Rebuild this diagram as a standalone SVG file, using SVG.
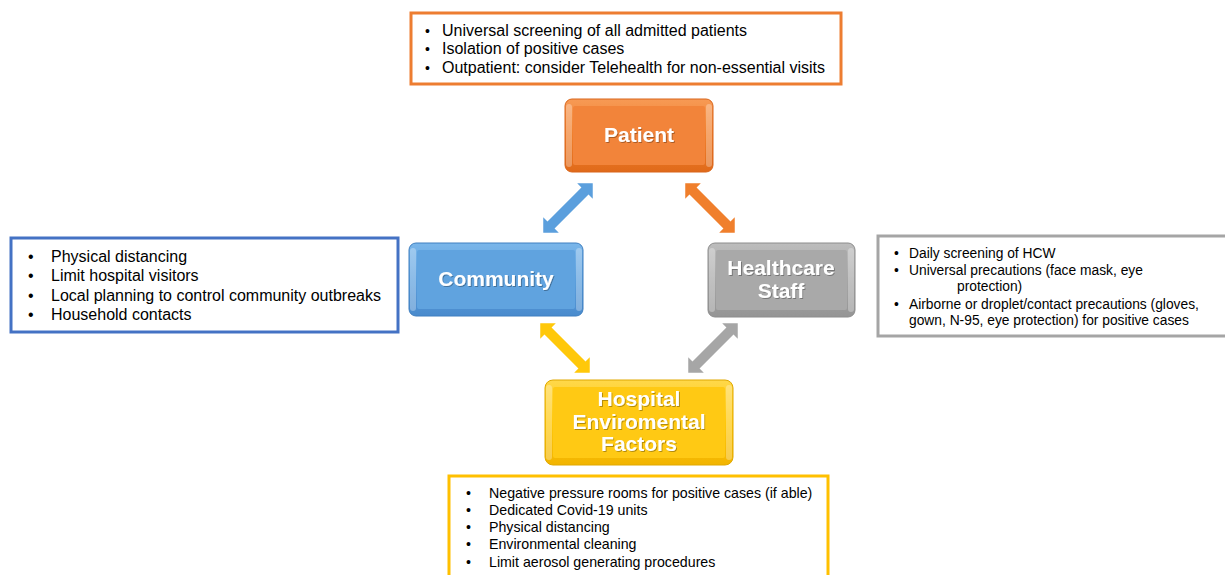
<svg xmlns="http://www.w3.org/2000/svg" width="1225" height="575" viewBox="0 0 1225 575">
  <defs>
    <style>
      .box { fill: #ffffff; stroke-width: 3; }
      .txt { font-family: "Liberation Sans", Arial, sans-serif; fill: #000000; }
      .lbl { font-family: "Liberation Sans", Arial, sans-serif; font-weight: bold; font-size: 21px; fill: #ffffff; text-anchor: middle; }
      .hi { fill: #ffffff; opacity: 0.3; }
    </style>
    <linearGradient id="gOrange" x1="0" y1="0" x2="0" y2="1">
      <stop offset="0" stop-color="#f79a55"/>
      <stop offset="0.5" stop-color="#f07f2c"/>
      <stop offset="1" stop-color="#e06a1a"/>
    </linearGradient>
    <linearGradient id="gBlue" x1="0" y1="0" x2="0" y2="1">
      <stop offset="0" stop-color="#7ab6ea"/>
      <stop offset="0.5" stop-color="#5b9fdd"/>
      <stop offset="1" stop-color="#4a8bcd"/>
    </linearGradient>
    <linearGradient id="gGray" x1="0" y1="0" x2="0" y2="1">
      <stop offset="0" stop-color="#bdbdbd"/>
      <stop offset="0.5" stop-color="#a6a6a6"/>
      <stop offset="1" stop-color="#959595"/>
    </linearGradient>
    <linearGradient id="gYellow" x1="0" y1="0" x2="0" y2="1">
      <stop offset="0" stop-color="#ffd84a"/>
      <stop offset="0.5" stop-color="#ffc80a"/>
      <stop offset="1" stop-color="#f2b400"/>
    </linearGradient>
    <filter id="tshadow" x="-10%" y="-10%" width="120%" height="130%">
      <feDropShadow dx="1" dy="1" stdDeviation="0.6" flood-color="#000000" flood-opacity="0.3"/>
    </filter>
    <!-- double-headed block arrow, drawn along the x axis -->
    <polygon id="dblArrow" points="35,0 24,-11 24,-5 -24,-5 -24,-11 -35,0 -24,11 -24,5 24,5 24,11"/>
  </defs>

  <!-- connectors -->
  <g id="connectors">
    <use href="#dblArrow" fill="#5b9fdd" transform="translate(568,208) rotate(-45)"/>
    <use href="#dblArrow" fill="#f07f2c" transform="translate(710,208) rotate(45)"/>
    <use href="#dblArrow" fill="#ffc80a" transform="translate(565,348) rotate(45)"/>
    <use href="#dblArrow" fill="#a6a6a6" transform="translate(713,348) rotate(-45)"/>
  </g>

  <!-- Patient -->
  <g id="patient">
    <rect x="565" y="99" width="148" height="73" rx="7" fill="url(#gOrange)" stroke="#d9651a" stroke-width="1"/>
    <rect x="573" y="106" width="132" height="59" rx="2" fill="#f2843a"/>
    <rect x="566" y="104" width="6" height="63" rx="3" class="hi"/>
    <rect x="706" y="104" width="6" height="63" rx="3" class="hi"/>
    <text x="639" y="142" class="lbl" filter="url(#tshadow)">Patient</text>
  </g>

  <!-- Community -->
  <g id="community">
    <rect x="409" y="243" width="174" height="73" rx="7" fill="url(#gBlue)" stroke="#3f7fc0" stroke-width="1"/>
    <rect x="417" y="250" width="158" height="59" rx="2" fill="#60a3df"/>
    <rect x="410" y="248" width="6" height="63" rx="3" class="hi"/>
    <rect x="576" y="248" width="6" height="63" rx="3" class="hi"/>
    <text x="496" y="286" class="lbl" filter="url(#tshadow)">Community</text>
  </g>

  <!-- Healthcare Staff -->
  <g id="healthcare-staff">
    <rect x="708" y="243" width="147" height="74" rx="7" fill="url(#gGray)" stroke="#8c8c8c" stroke-width="1"/>
    <rect x="716" y="250" width="131" height="60" rx="2" fill="#a9a9a9"/>
    <rect x="709" y="248" width="6" height="64" rx="3" class="hi"/>
    <rect x="848" y="248" width="6" height="64" rx="3" class="hi"/>
    <text x="781" y="275" class="lbl" filter="url(#tshadow)">Healthcare</text>
    <text x="781" y="298" class="lbl" filter="url(#tshadow)">Staff</text>
  </g>

  <!-- Hospital Enviromental Factors -->
  <g id="hospital">
    <rect x="545" y="380" width="188" height="85" rx="8" fill="url(#gYellow)" stroke="#e0a800" stroke-width="1"/>
    <rect x="553" y="387" width="172" height="71" rx="2" fill="#ffc914"/>
    <rect x="546" y="385" width="6" height="75" rx="3" class="hi"/>
    <rect x="726" y="385" width="6" height="75" rx="3" class="hi"/>
    <text x="639" y="406" class="lbl" filter="url(#tshadow)">Hospital</text>
    <text x="639" y="429" class="lbl" filter="url(#tshadow)">Enviromental</text>
    <text x="639" y="451" class="lbl" filter="url(#tshadow)">Factors</text>
  </g>

  <!-- Patient measures -->
  <g id="patient-notes">
    <rect x="411" y="13" width="430" height="71" class="box" stroke="#ed7d31"/>
    <g class="txt" font-size="16">
      <text x="425" y="36" font-size="14">•</text><text x="442" y="36">Universal screening of all admitted patients</text>
      <text x="425" y="54" font-size="14">•</text><text x="442" y="54">Isolation of positive cases</text>
      <text x="425" y="73" font-size="14">•</text><text x="442" y="73">Outpatient: consider Telehealth for non-essential visits</text>
    </g>
  </g>

  <!-- Community measures -->
  <g id="community-notes">
    <rect x="11" y="238" width="387" height="94" class="box" stroke="#4472c4"/>
    <g class="txt" font-size="16">
      <text x="28" y="262">•</text><text x="51" y="262">Physical distancing</text>
      <text x="28" y="281">•</text><text x="51" y="281">Limit hospital visitors</text>
      <text x="28" y="301">•</text><text x="51" y="301">Local planning to control community outbreaks</text>
      <text x="28" y="320">•</text><text x="51" y="320">Household contacts</text>
    </g>
  </g>

  <!-- Healthcare staff measures -->
  <g id="staff-notes">
    <rect x="878" y="236" width="350" height="100" class="box" stroke="#a5a5a5"/>
    <g class="txt" font-size="13.8">
      <text x="894" y="258">•</text><text x="909" y="258">Daily screening of HCW</text>
      <text x="894" y="275">•</text><text x="909" y="275">Universal precautions (face mask, eye</text>
      <text x="957" y="291">protection)</text>
      <text x="894" y="309">•</text><text x="909" y="309">Airborne or droplet/contact precautions (gloves,</text>
      <text x="909" y="325">gown, N-95, eye protection) for positive cases</text>
    </g>
  </g>

  <!-- Hospital environment measures -->
  <g id="hospital-notes">
    <rect x="449" y="476" width="379" height="105" class="box" stroke="#ffc000"/>
    <g class="txt" font-size="14.2">
      <text x="466" y="498">•</text><text x="489" y="498">Negative pressure rooms for positive cases (if able)</text>
      <text x="466" y="515">•</text><text x="489" y="515">Dedicated Covid-19 units</text>
      <text x="466" y="532">•</text><text x="489" y="532">Physical distancing</text>
      <text x="466" y="549">•</text><text x="489" y="549">Environmental cleaning</text>
      <text x="466" y="567">•</text><text x="489" y="567">Limit aerosol generating procedures</text>
    </g>
  </g>
</svg>
